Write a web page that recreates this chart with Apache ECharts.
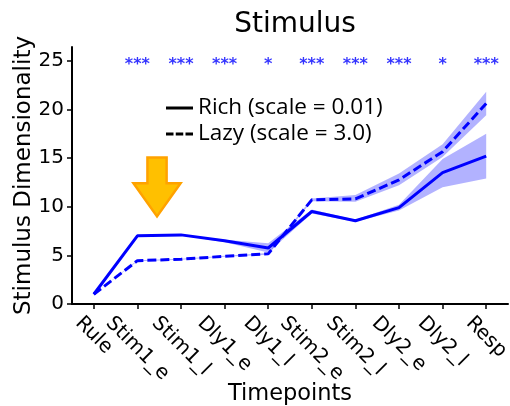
<!DOCTYPE html>
<html>
<head>
<meta charset="utf-8">
<script src="https://cdn.jsdelivr.net/npm/echarts@6/dist/echarts.min.js"></script>
<style>html,body{margin:0;padding:0;background:#fff;}#c{width:510px;height:406px;}</style>
</head>
<body>
<div id="c"></div>
<script>
const categories = ['Rule','Stim1_e','Stim1_l','Dly1_e','Dly1_l','Stim2_e','Stim2_l','Dly2_e','Dly2_l','Resp'];
const richMean = [1.0, 7.0, 7.1, 6.5, 5.75, 9.5, 8.55, 9.9, 13.5, 15.2];
const richLow  = [1.0, 6.95, 7.05, 6.35, 5.3, 9.3, 8.45, 9.6, 12.0, 12.9];
const richHigh = [1.0, 7.05, 7.15, 6.6, 6.25, 9.7, 8.65, 10.2, 14.9, 17.5];
const lazyMean = [1.0, 4.45, 4.6, 4.9, 5.15, 10.7, 10.8, 12.75, 15.65, 20.6];
const lazyLow  = [1.0, 4.4, 4.55, 4.85, 5.05, 10.55, 10.5, 12.2, 15.1, 19.4];
const lazyHigh = [1.0, 4.5, 4.65, 4.95, 5.25, 10.85, 11.2, 13.4, 16.4, 21.8];
const stars = ['', '***', '***', '***', '*', '***', '***', '***', '*', '***'];
const starLevel = 25;
const yTicks = [0, 5, 10, 15, 20, 25];
// arrow annotation: between category 1 and 2 (fraction), value top / head start / tip
const arrowCat = 1, arrowFrac = 0.45, arrowTop = 15.05, arrowHead = 12.4, arrowTip = 9.0;

const FONT = 'DejaVu Sans';
const LFONT = 'Open Sans';
const BLUE = '#0000ff';
const XFS = 20, XLH = 23;

// per-label padding so each rotated label's box is centred under its tick (matplotlib style)
const mctx = document.createElement('canvas').getContext('2d');
mctx.font = XFS + 'px "' + FONT + '"';
const xRich = {};
categories.forEach((c,i)=>{
  const w = mctx.measureText(c).width;
  xRich['l'+i] = {fontFamily: FONT, fontSize: XFS, lineHeight: XLH, color: '#000', padding: [w/2, 0, 0, w/2]};
});

function bandSeries(low, high){
  return {
    type: 'custom',
    silent: true,
    z: 1,
    data: [0],
    renderItem: function(params, api){
      const pts = [];
      for (let i=0;i<high.length;i++) pts.push(api.coord([i, high[i]]));
      for (let i=low.length-1;i>=0;i--) pts.push(api.coord([i, low[i]]));
      return {type:'polygon', shape:{points:pts}, style:{fill:'rgba(0,0,255,0.3)', stroke:null}};
    }
  };
}

const chart = echarts.init(document.getElementById('c'), null, {renderer:'canvas'});
chart.setOption({
  animation: false,
  backgroundColor: '#fff',
  title: {
    text: 'Stimulus', left: 290, top: 6, textAlign: 'center',
    textStyle: {fontFamily: FONT, fontSize: 28, fontWeight: 'normal', color: '#000'}
  },
  legend: {
    orient: 'vertical', left: 166, top: 95, padding: 0, itemWidth: 27, itemHeight: 3, itemGap: 0, itemTextGap: 13,
    data: [
      {name: 'Rich (scale = 0.01)', icon: 'path://M0 0H27V3H0Z'},
      {name: 'Lazy (scale = 3.0)', icon: 'path://M0 0H7.5V3H0Z M9.75 0H17.25V3H9.75Z M19.5 0H27V3H19.5Z'}
    ],
    textStyle: {fontFamily: LFONT, fontSize: 22.5, lineHeight: 26, color: '#000'}
  },
  grid: {left: 72, right: 2, top: 47, bottom: 102, containLabel: false, outerBoundsMode: 'none'},
  xAxis: {
    type: 'category', data: categories, boundaryGap: true,
    name: 'Timepoints', nameLocation: 'middle', nameGap: 79, nameMoveOverlap: false,
    nameTextStyle: {fontFamily: FONT, fontSize: 22.5, color: '#000'},
    axisLine: {show: true, onZero: false, lineStyle: {color: '#000', width: 2}},
    axisTick: {show: true, alignWithLabel: true, interval: 0, length: 5, lineStyle: {color: '#000', width: 1.5}},
    axisLabel: {interval: 0, rotate: -45, align: 'center', verticalAlign: 'middle', hideOverlap: false,
      fontFamily: FONT, fontSize: XFS, color: '#000', margin: 16, rich: xRich,
      formatter: (v, i) => '{l' + i + '|' + v + '}'},
    splitLine: {show: false}
  },
  yAxis: {
    type: 'value', min: 0, max: 26.4,
    name: 'Stimulus Dimensionality', nameLocation: 'middle', nameGap: 36, nameMoveOverlap: false,
    nameTextStyle: {fontFamily: FONT, fontSize: 23, color: '#000'},
    axisLine: {show: true, lineStyle: {color: '#000', width: 2}},
    axisTick: {show: true, customValues: yTicks, length: 5, lineStyle: {color: '#000', width: 1.5}},
    axisLabel: {customValues: yTicks, showMinLabel: true, showMaxLabel: true,
      fontFamily: FONT, fontSize: 20, color: '#000', margin: 8},
    splitLine: {show: false}
  },
  series: [
    bandSeries(richLow, richHigh),
    bandSeries(lazyLow, lazyHigh),
    {
      name: 'rich', type: 'line', data: richMean, symbol: 'none', z: 3,
      lineStyle: {color: BLUE, width: 3}, itemStyle: {color: BLUE}
    },
    {
      name: 'lazy', type: 'line', data: lazyMean, symbol: 'none', z: 3,
      lineStyle: {color: BLUE, width: 3, type: [9, 4]}, itemStyle: {color: BLUE}
    },
    {
      name: 'Rich (scale = 0.01)', type: 'line', data: [], symbol: 'none',
      lineStyle: {color: '#000', width: 3}, itemStyle: {color: '#000'}
    },
    {
      name: 'Lazy (scale = 3.0)', type: 'line', data: [], symbol: 'none',
      lineStyle: {color: '#000', width: 3}, itemStyle: {color: '#000'}
    },
    {
      type: 'scatter', symbolSize: 0, silent: true, z: 4,
      data: stars.map((s,i)=>({value:[i, starLevel], label:{show: s !== '', formatter: s}})),
      label: {show: true, position: 'inside', offset: [0, 4], color: BLUE, fontFamily: FONT, fontSize: 16, fontWeight: 'bold'}
    },
    {
      type: 'custom', silent: true, z: 5, data: [0],
      renderItem: function(params, api){
        const a = api.coord([arrowCat, arrowTop]), b = api.coord([arrowCat + 1, arrowTop]);
        const step = b[0] - a[0];
        const cx = a[0] + arrowFrac * step;
        const yTop = api.coord([arrowCat, arrowTop])[1];
        const yHead = api.coord([arrowCat, arrowHead])[1];
        const yTip = api.coord([arrowCat, arrowTip])[1];
        const sw = 0.22 * step, hw = 0.54 * step;
        const pts = [
          [cx-sw, yTop], [cx+sw, yTop], [cx+sw, yHead], [cx+hw, yHead], [cx, yTip], [cx-hw, yHead], [cx-sw, yHead]
        ];
        return {type:'polygon', shape:{points:pts}, style:{fill:'#FFC000', stroke:'#FFA200', lineWidth:2.5, lineJoin:'miter'}};
      }
    }
  ]
});
</script>
</body>
</html>
